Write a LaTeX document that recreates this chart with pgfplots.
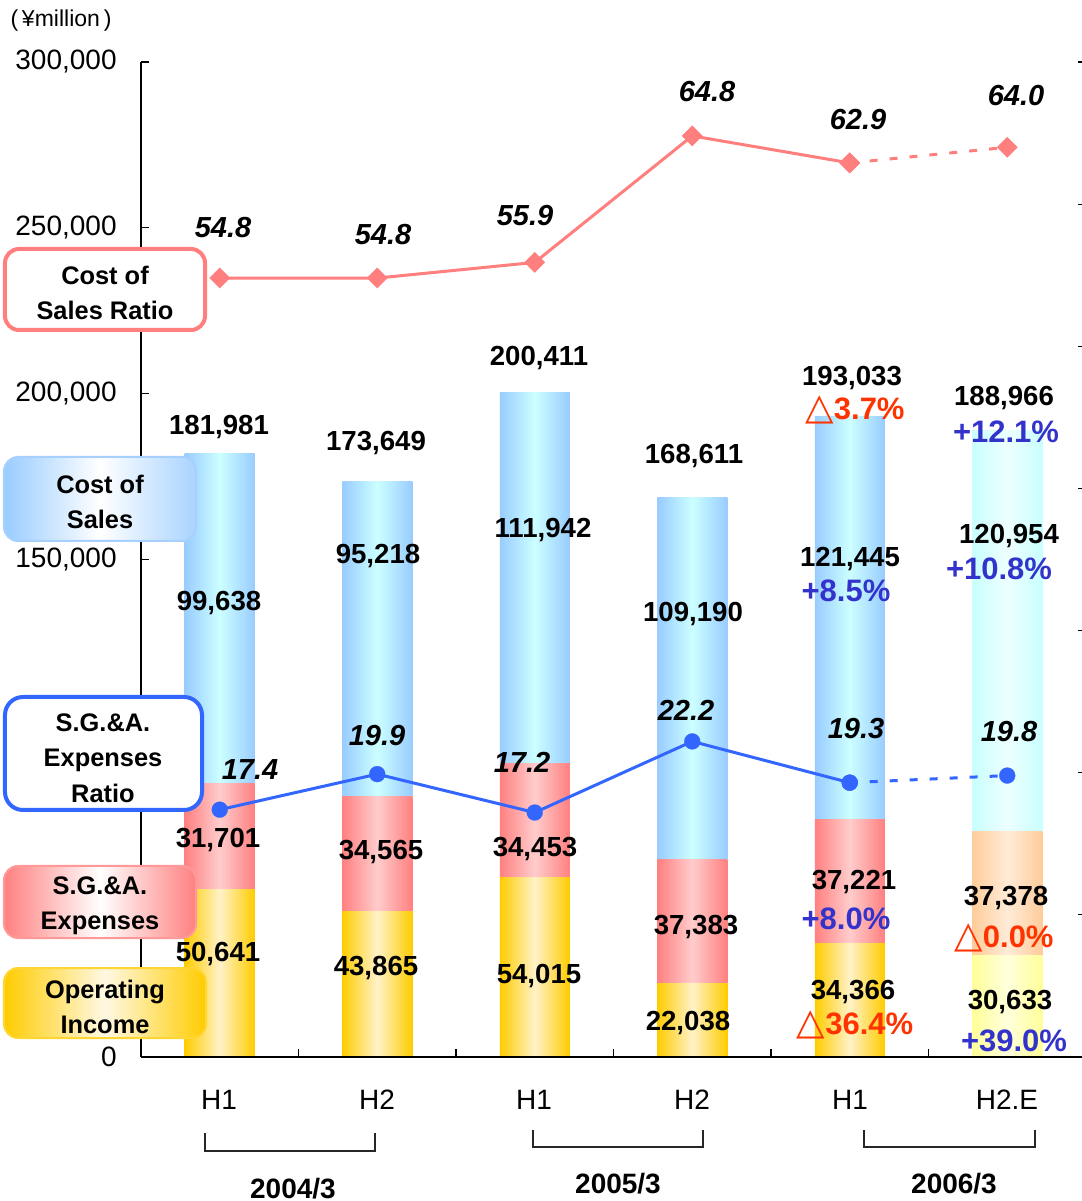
\documentclass[border=0pt]{standalone}
\usepackage{pgfplots}
\pgfplotsset{compat=1.18}
\usepackage{fontspec}
\setmainfont{Liberation Sans}
\newfontfamily\dejavu{DejaVu Sans}

\definecolor{cosEdge}{HTML}{99CCFF}
\definecolor{cosMid}{HTML}{CCFFFF}
\definecolor{sgaEdge}{HTML}{FF8080}
\definecolor{sgaMid}{HTML}{FFCCCC}
\definecolor{oiEdge}{HTML}{FFCC00}
\definecolor{oiMid}{HTML}{FFF2C8}
\definecolor{cosEstEdge}{HTML}{C8FFFF}
\definecolor{cosEstMid}{HTML}{EEFFFF}
\definecolor{sgaEstEdge}{HTML}{FFCC99}
\definecolor{sgaEstMid}{HTML}{FFEBD8}
\definecolor{oiEstEdge}{HTML}{FFFF99}
\definecolor{oiEstMid}{HTML}{FFFFDC}
\definecolor{ratioPink}{HTML}{FF7F7F}
\definecolor{ratioBlue}{HTML}{3366FF}
\definecolor{pctRed}{HTML}{FF3300}
\definecolor{pctBlue}{HTML}{3333CC}
\definecolor{cosLegBorder}{HTML}{A8D0FF}
\definecolor{sgaLegBorder}{HTML}{FF9999}
\definecolor{oiLegBorder}{HTML}{FFD633}

\newcommand{\vlf}{\fontsize{13.8}{16}\selectfont\bfseries}
\newcommand{\plf}{\fontsize{15.5}{18}\selectfont\bfseries}
\newcommand{\rlf}{\fontsize{14.5}{17}\selectfont\bfseries\itshape}
\newcommand{\lgf}{\fontsize{12.7}{17.75}\selectfont\bfseries}
\newcommand{\tri}{{\dejavu\fontsize{18.5}{18}\selectfont △}}

\pgfplotsset{
  geom/.style={scale only axis, width=472.5pt, height=497.5pt, xmin=-0.5, xmax=5.5, clip=false},
  baraxis/.style={geom, ymin=0, ymax=300000, hide axis, ybar stacked, bar width=35pt},
  oi/.style={draw=none, left color=oiEdge, right color=oiEdge, middle color=oiMid},
  sga/.style={draw=none, left color=sgaEdge, right color=sgaEdge, middle color=sgaMid},
  cos/.style={draw=none, left color=cosEdge, right color=cosEdge, middle color=cosMid},
  oiE/.style={draw=none, left color=oiEstEdge, right color=oiEstEdge, middle color=oiEstMid},
  sgaE/.style={draw=none, left color=sgaEstEdge, right color=sgaEstEdge, middle color=sgaEstMid},
  cosE/.style={draw=none, left color=cosEstEdge, right color=cosEstEdge, middle color=cosEstMid},
}

\begin{document}
\begin{tikzpicture}[
  vl/.style={font=\vlf, anchor=base, inner sep=0pt, yshift=-5pt},
  pr/.style={font=\plf, anchor=base, inner sep=0pt, yshift=-5.5pt, text=pctRed},
  pb/.style={font=\plf, anchor=base, inner sep=0pt, yshift=-5.5pt, text=pctBlue},
  rl/.style={font=\rlf, anchor=base, inner sep=0pt, yshift=-5.2pt},
  xl/.style={font=\fontsize{14}{16}\selectfont, anchor=base, inner sep=0pt, yshift=-5pt},
  yl/.style={font=\fontsize{14}{16}\selectfont\bfseries, anchor=base, inner sep=0pt, yshift=-5pt},
  lg/.style={font=\lgf, align=center, inner sep=0pt},
]
% ---------- one stacked bar per axis, so each bar gets its own shading ----------
\begin{axis}[baraxis]
\addplot[oi]  coordinates {(0,50641)};
\addplot[sga] coordinates {(0,31701)};
\addplot[cos] coordinates {(0,99638)};
\end{axis}
\begin{axis}[baraxis]
\addplot[oi]  coordinates {(1,43865)};
\addplot[sga] coordinates {(1,34565)};
\addplot[cos] coordinates {(1,95218)};
\end{axis}
\begin{axis}[baraxis]
\addplot[oi]  coordinates {(2,54015)};
\addplot[sga] coordinates {(2,34453)};
\addplot[cos] coordinates {(2,111942)};
\end{axis}
\begin{axis}[baraxis]
\addplot[oi]  coordinates {(3,22038)};
\addplot[sga] coordinates {(3,37383)};
\addplot[cos] coordinates {(3,109190)};
\end{axis}
\begin{axis}[baraxis]
\addplot[oi]  coordinates {(4,34366)};
\addplot[sga] coordinates {(4,37221)};
\addplot[cos] coordinates {(4,121445)};
\end{axis}
\begin{axis}[baraxis]
\addplot[oiE]  coordinates {(5,30633)};
\addplot[sgaE] coordinates {(5,37378)};
\addplot[cosE] coordinates {(5,120954)};
\end{axis}
% ---------- left axis (yen) ----------
\begin{axis}[
  geom, ymin=0, ymax=300000,
  axis x line*=bottom, axis y line*=left,
  axis line style={-, black, line width=0.6pt},
  xtick={0.5,1.5,2.5,3.5,4.5}, xticklabels={},
  ytick={0,50000,100000,150000,200000,250000,300000},
  yticklabels={0,{},{},{150,000},{200,000},{250,000},{300,000}},
  scaled y ticks=false,
  tick align=inside, major tick length=4pt,
  tick style={black, line width=0.6pt},
  yticklabel style={font=\fontsize{14}{16}\selectfont, inner sep=0pt, xshift=-12pt},
]
\addplot[draw=none] coordinates {(0,0)};
\end{axis}
% ---------- ratio lines (right axis, %) ----------
\begin{axis}[
  geom, ymin=0, ymax=70,
  axis x line=none, axis y line*=right,
  axis line style={-, black, line width=0.6pt},
  ytick={0,10,20,30,40,50,60,70}, yticklabels={},
  tick align=inside, major tick length=4pt,
  tick style={black, line width=0.6pt},
]
\addplot[ratioPink, line width=1.5pt, mark=square*, mark size=3.6pt,
  mark options={rotate=45, solid, fill=ratioPink, draw=ratioPink, line width=0.1pt}]
  coordinates {(0,54.8) (1,54.8) (2,55.9) (3,64.8) (4,62.9)};
\addplot[ratioPink, line width=1.5pt, dash pattern=on 4pt off 6pt, mark=square*, mark size=3.6pt,
  mark options={rotate=45, solid, fill=ratioPink, draw=ratioPink, line width=0.1pt}]
  coordinates {(4,62.9) (5,64.0)};
\addplot[ratioBlue, line width=1.5pt, mark=*, mark size=4pt,
  mark options={solid, fill=ratioBlue, draw=ratioBlue, line width=0.1pt}]
  coordinates {(0,17.4) (1,19.9) (2,17.2) (3,22.2) (4,19.3)};
\addplot[ratioBlue, line width=1.5pt, dash pattern=on 4pt off 6pt, mark=*, mark size=4pt,
  mark options={solid, fill=ratioBlue, draw=ratioBlue, line width=0.1pt}]
  coordinates {(4,19.3) (5,19.8)};
\end{axis}
% ---------- annotations in pixel coordinates ----------
\begin{scope}[shift={(-70.5pt,528.5pt)}, x=0.5pt, y=-0.5pt]
  % legend boxes
  \draw[rounded corners=7pt, line width=2pt, draw=ratioPink, fill=white] (5,249) rectangle (205,330);
  \node[lg] at (105,293) {Cost of\\Sales Ratio};
  \draw[rounded corners=7pt, line width=1pt, draw=cosLegBorder, left color=cosEdge, right color=cosEdge!85, middle color=white] (4,457) rectangle (196,541);
  \node[lg] at (100,502) {Cost of\\Sales};
  \draw[rounded corners=9pt, line width=2pt, draw=ratioBlue, fill=white] (5,697) rectangle (202,810);
  \node[lg] at (103,758) {S.G.\&A.\\Expenses\\Ratio};
  \draw[rounded corners=7pt, line width=1pt, draw=sgaLegBorder, left color=sgaEdge, right color=sgaEdge, middle color=white] (4,866) rectangle (196,938);
  \node[lg] at (100,906) {S.G.\&A.\\Expenses};
  \draw[rounded corners=7pt, line width=1pt, draw=oiLegBorder, left color=oiEdge, right color=oiEdge, middle color=oiMid!50!white] (4,968) rectangle (206,1038);
  \node[lg] at (105,1007) {Operating\\Income};

  % unit
  \node[font=\fontsize{11.5}{12}\selectfont, inner sep=0pt] at (61,21) {(\,¥million\,)};

  % bar 1
  \node[vl] at (219,425) {181,981};
  \node[vl] at (219,601) {99,638};
  \node[vl] at (218,838) {31,701};
  \node[vl] at (218,951) {50,641};
  % bar 2
  \node[vl] at (376,441) {173,649};
  \node[vl] at (378,554) {95,218};
  \node[vl] at (381,849) {34,565};
  \node[vl] at (376,965) {43,865};
  % bar 3
  \node[vl] at (539,356) {200,411};
  \node[vl] at (543,528) {111,942};
  \node[vl] at (535,847) {34,453};
  \node[vl] at (539,973) {54,015};
  % bar 4
  \node[vl] at (694,454) {168,611};
  \node[vl] at (693,612) {109,190};
  \node[vl] at (696,925) {37,383};
  \node[vl] at (688,1020) {22,038};
  % bar 5
  \node[vl] at (852,376) {193,033};
  \node[pr] at (855,409) {\tri3.7\%};
  \node[vl] at (850,557) {121,445};
  \node[pb] at (846,591) {+8.5\%};
  \node[vl] at (854,880) {37,221};
  \node[pb] at (846,919) {+8.0\%};
  \node[vl] at (853,989) {34,366};
  \node[pr] at (855,1023) {\tri36.4\%};
  % bar 6
  \node[vl] at (1004,396) {188,966};
  \node[pb] at (1006,432) {+12.1\%};
  \node[vl] at (1009,534) {120,954};
  \node[pb] at (999,569) {+10.8\%};
  \node[vl] at (1006,896) {37,378};
  \node[pr] at (1004,936) {\tri0.0\%};
  \node[vl] at (1010,1000) {30,633};
  \node[pb] at (1014,1040) {+39.0\%};

  % ratio labels
  \node[rl] at (223,227) {54.8};
  \node[rl] at (383,234) {54.8};
  \node[rl] at (525,215) {55.9};
  \node[rl] at (707,91) {64.8};
  \node[rl] at (858,119) {62.9};
  \node[rl] at (1016,95) {64.0};
  \node[rl] at (250,769) {17.4};
  \node[rl] at (377,735) {19.9};
  \node[rl] at (522,762) {17.2};
  \node[rl] at (686,710) {22.2};
  \node[rl] at (856,728) {19.3};
  \node[rl] at (1009,731) {19.8};

  % category labels
  \node[xl] at (219,1099) {H1};
  \node[xl] at (377,1099) {H2};
  \node[xl] at (534,1099) {H1};
  \node[xl] at (692,1099) {H2};
  \node[xl] at (850,1099) {H1};
  \node[xl] at (1007,1099) {H2.E};

  % brackets
  \draw[line width=1.4pt, color=black!85] (205,1133) -- (205,1151) -- (375,1151) -- (375,1133);
  \draw[line width=1.4pt, color=black!85] (533,1130) -- (533,1147) -- (703,1147) -- (703,1130);
  \draw[line width=1.4pt, color=black!85] (864,1130) -- (864,1147) -- (1035,1147) -- (1035,1130);

  % year labels
  \node[yl] at (293,1188) {2004/3};
  \node[yl] at (618,1183) {2005/3};
  \node[yl] at (954,1183) {2006/3};

  \pgfresetboundingbox
  \useasboundingbox (0,0) rectangle (1082,1201);
\end{scope}
\end{tikzpicture}
\end{document}
